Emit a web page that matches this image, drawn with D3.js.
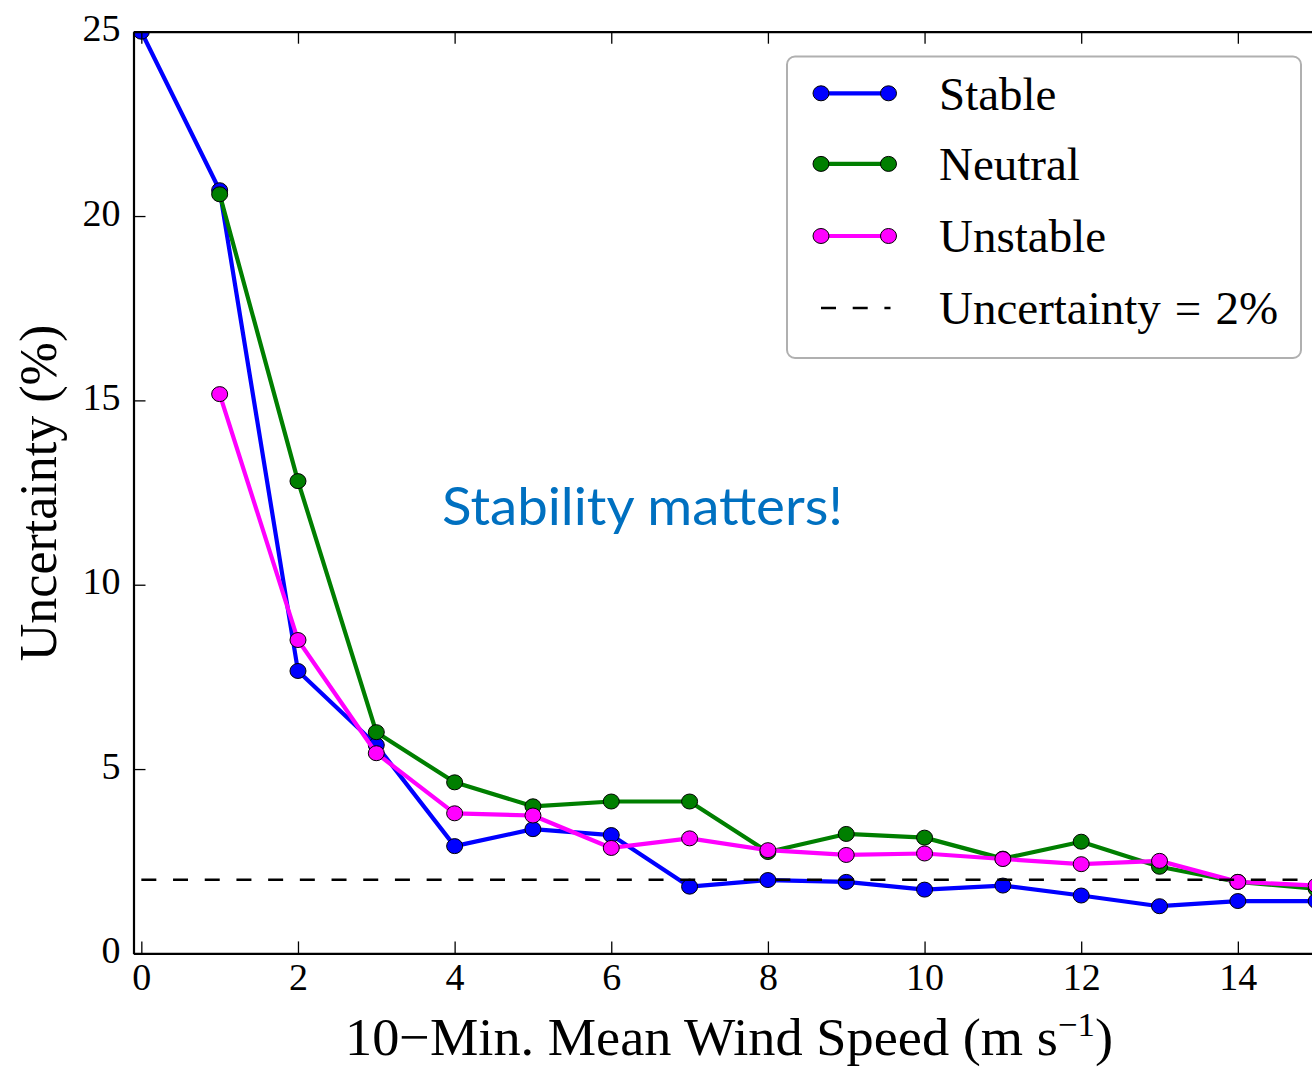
<!DOCTYPE html>
<html>
<head>
<meta charset="utf-8">
<script src="https://cdn.jsdelivr.net/npm/d3@7"></script>
<style>
  html, body { margin: 0; padding: 0; background: #fff; overflow: hidden; }
  svg { display: block; }
</style>
</head>
<body>
<svg id="chart" width="1312" height="1067"></svg>
<script>
// ---- data ----
const windSpeed = [0, 1, 2, 3, 4, 5, 6, 7, 8, 9, 10, 11, 12, 13, 14, 15];
const stableValues   = [25, 20.7, 7.66, 5.65, 2.91, 3.37, 3.21, 1.81, 1.99, 1.94, 1.73, 1.84, 1.57, 1.28, 1.42, 1.42];
const neutralValues  = [null, 20.59, 12.81, 6.0, 4.64, 3.99, 4.12, 4.12, 2.75, 3.24, 3.14, 2.57, 3.03, 2.35, 1.94, 1.75];
const unstableValues = [null, 15.17, 8.5, 5.43, 3.8, 3.74, 2.86, 3.12, 2.8, 2.67, 2.71, 2.56, 2.42, 2.51, 1.94, 1.84];
const seriesNames = ["Stable", "Neutral", "Unstable"];
const seriesColors = ["#0000ff", "#007f00", "#ff00ff"];
const thresholdValue = 2;
const thresholdLabelParts = ["Uncertainty", "=", "2%"];
const xTicks = [0, 2, 4, 6, 8, 10, 12, 14];
const yTicks = [0, 5, 10, 15, 20, 25];
const xLabel = "10\u2212Min. Mean Wind Speed (m s";
const yLabel = "Uncertainty (%)";
const annotation = "Stability matters!";

(function () {
const series = [stableValues, neutralValues, unstableValues].map((vals, i) => ({
  name: seriesNames[i],
  color: seriesColors[i],
  points: windSpeed.map((x, j) => ({x, y: vals[j]})).filter(d => d.y !== null)
}));

// ---- layout ----
const svg = d3.select("#chart");
const pL = 133.5, pR = 1324, pT = 31.7, pB = 953.4;
const x = d3.scaleLinear().domain([-0.1, 15.1]).range([pL, pR]);
const y = d3.scaleLinear().domain([0, 25]).range([pB, pT]);
const serif = "'Liberation Serif', 'DejaVu Serif', serif";

svg.append("defs").append("clipPath").attr("id", "plotclip")
  .append("rect").attr("x", pL).attr("y", pT).attr("width", pR - pL).attr("height", pB - pT);

const plot = svg.append("g").attr("clip-path", "url(#plotclip)");

const line = d3.line().x(d => x(d.x)).y(d => y(d.y));
series.forEach(s => {
  plot.append("path").datum(s.points)
    .attr("d", line).attr("fill", "none")
    .attr("stroke", s.color).attr("stroke-width", 4.2)
    .attr("stroke-linejoin", "round");
  plot.selectAll(null).data(s.points).enter().append("ellipse")
    .attr("cx", d => x(d.x)).attr("cy", d => y(d.y)).attr("rx", 8).attr("ry", 7.5)
    .attr("fill", s.color).attr("stroke", "#000").attr("stroke-width", 1);
});

// threshold dashed line
plot.append("line")
  .attr("x1", x(0)).attr("x2", x(15.1))
  .attr("y1", y(thresholdValue)).attr("y2", y(thresholdValue))
  .attr("stroke", "#000").attr("stroke-width", 2.5)
  .attr("stroke-dasharray", "15,16.7");

// ---- axes (inward ticks on all sides) ----
const tickLen = 12;
const axB = svg.append("g").attr("transform", `translate(0,${pB})`)
  .call(d3.axisBottom(x).tickValues(xTicks).tickSizeInner(-tickLen).tickSizeOuter(0).tickPadding(8));
const axT = svg.append("g").attr("transform", `translate(0,${pT})`)
  .call(d3.axisTop(x).tickValues(xTicks).tickSizeInner(-tickLen).tickSizeOuter(0).tickFormat(""));
const axL = svg.append("g").attr("transform", `translate(${pL},0)`)
  .call(d3.axisLeft(y).tickValues(yTicks).tickSizeInner(-tickLen).tickSizeOuter(0).tickPadding(13));
const axR = svg.append("g").attr("transform", `translate(${pR},0)`)
  .call(d3.axisRight(y).tickValues(yTicks).tickSizeInner(-tickLen).tickSizeOuter(0).tickFormat(""));

[axB, axT, axL, axR].forEach(a => {
  a.select(".domain").attr("stroke", "#000").attr("stroke-width", 2.2);
  a.selectAll(".tick line").attr("stroke", "#000").attr("stroke-width", 1.3);
  a.selectAll("text").attr("font-family", serif).attr("font-size", 38).attr("fill", "#000");
});
axB.selectAll("text").attr("dy", "0.74em");
axL.selectAll("text").attr("dy", "0.24em");

// axis labels
const xl = svg.append("text").attr("x", 729).attr("y", 1055).attr("text-anchor", "middle")
  .attr("font-family", serif).attr("font-size", 53).attr("fill", "#000")
  .attr("textLength", 768).attr("lengthAdjust", "spacingAndGlyphs");
xl.append("tspan").text(xLabel);
xl.append("tspan").attr("font-size", 34).attr("dy", -19).text("\u22121");
xl.append("tspan").attr("dy", 19).text(")");

svg.append("text")
  .attr("transform", `translate(56,${493}) rotate(-90)`)
  .attr("text-anchor", "middle")
  .attr("font-family", serif).attr("font-size", 52).attr("fill", "#000")
  .text(yLabel);

// annotation
svg.append("text").attr("x", 442).attr("y", 525)
  .attr("font-family", "Lato, 'Open Sans', sans-serif").attr("font-size", 52)
  .attr("fill", "#0070c0").attr("textLength", 401).attr("lengthAdjust", "spacingAndGlyphs")
  .text(annotation);

// ---- legend ----
const lg = svg.append("g");
lg.append("rect").attr("x", 787).attr("y", 56.5).attr("width", 514).attr("height", 301.5)
  .attr("rx", 8).attr("ry", 8).attr("fill", "#fff").attr("stroke", "#b0b0b0").attr("stroke-width", 2);
const rowY = [93.3, 163.9, 236, 308];
const lx1 = 821, lx2 = 888.5, tx = 939;
series.forEach((s, i) => {
  lg.append("line").attr("x1", lx1).attr("x2", lx2).attr("y1", rowY[i]).attr("y2", rowY[i])
    .attr("stroke", s.color).attr("stroke-width", 4.2);
  [lx1, lx2].forEach(cx => lg.append("ellipse").attr("cx", cx).attr("cy", rowY[i]).attr("rx", 8).attr("ry", 7.5)
    .attr("fill", s.color).attr("stroke", "#000").attr("stroke-width", 1));
  lg.append("text").attr("x", tx).attr("y", rowY[i]).attr("dy", "0.35em")
    .attr("font-family", serif).attr("font-size", 47).attr("fill", "#000").text(s.name);
});
lg.append("line").attr("x1", lx1).attr("x2", lx2 + 2).attr("y1", rowY[3]).attr("y2", rowY[3])
  .attr("stroke", "#000").attr("stroke-width", 2.5).attr("stroke-dasharray", "15,16.7");
const tl = lg.append("text").attr("x", tx).attr("y", rowY[3]).attr("dy", "0.35em")
  .attr("font-family", serif).attr("font-size", 47).attr("fill", "#000");
tl.append("tspan").text(thresholdLabelParts[0]);
tl.append("tspan").attr("dx", 14).text(thresholdLabelParts[1]);
tl.append("tspan").attr("dx", 14).text(thresholdLabelParts[2]);
})();
</script>
</body>
</html>
